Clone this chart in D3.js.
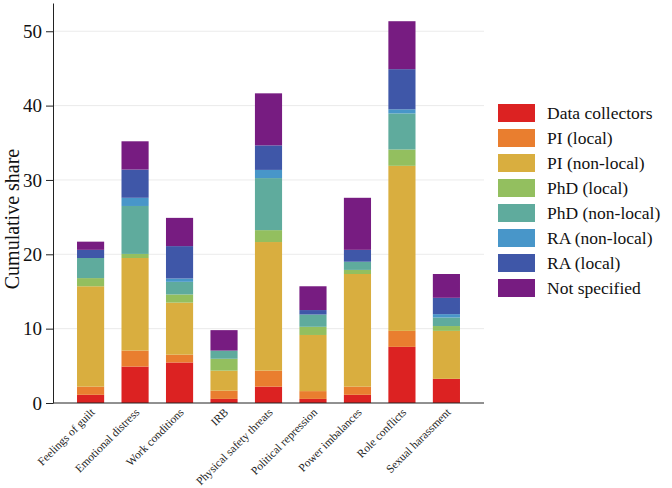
<!DOCTYPE html>
<html>
<head>
<meta charset="utf-8">
<script src="https://cdn.jsdelivr.net/npm/d3@7"></script>
<style>
body{margin:0;background:#fff;}
svg text{font-family:"Liberation Serif","Times New Roman","DejaVu Serif",serif !important;}
</style>
</head>
<body>
<script>
//data
const categories=["Feelings of guilt","Emotional distress","Work conditions","IRB","Physical safety threats","Political repression","Power imbalances","Role conflicts","Sexual harassment"];
const groups=["Data collectors","PI (local)","PI (non-local)","PhD (local)","PhD (non-local)","RA (non-local)","RA (local)","Not specified"];
const colors=["#dc2222","#e97e2f","#d9ae3f","#93bf5f","#5fab9d","#4896c9","#3f57a8","#771c81"];
const dataCollectors=[1.1,4.9,5.45,0.55,2.2,0.55,1.1,7.55,3.25];
const piLocal=[1.1,2.15,1.05,1.1,2.15,1.05,1.1,2.15,0];
const piNonLocal=[13.5,12.45,7.0,2.7,17.3,7.55,15.15,22.2,6.45];
const phdLocal=[1.1,0.55,1.1,1.6,1.6,1.1,0.55,2.2,0.65];
const phdNonLocal=[2.7,6.45,1.7,1.1,7.0,1.65,1.1,4.85,1.15];
const raNonLocal=[0,1.1,0.45,0,1.1,0,0,0.55,0.45];
const raLocal=[1.1,3.8,4.35,0,3.3,0.6,1.6,5.4,2.2];
const notSpecified=[1.1,3.8,3.8,2.75,7.0,3.2,7.0,6.45,3.2];
const yTicks=[0,10,20,30,40,50];

const series=[dataCollectors,piLocal,piNonLocal,phdLocal,phdNonLocal,raNonLocal,raLocal,notSpecified];
const rows=categories.map((c,i)=>{
  const r={cat:c};
  groups.forEach((g,j)=>r[g]=series[j][i]);
  return r;
});

//constants
const w=672,h=488;
const mLeft=53,mRight=484,mTop=3,mBottom=403;
const serif="'Liberation Serif','Times New Roman',serif";

const svg=d3.select("body").append("svg").attr("width",w).attr("height",h)
  .attr("font-family",serif);

const x=d3.scaleBand().domain(categories).range([mLeft,mRight]).paddingInner(0.39).paddingOuter(0.54);
const y=d3.scaleLinear().domain([0,53.8]).range([mBottom,mTop]);
const color=d3.scaleOrdinal().domain(groups).range(colors);

//grid
svg.append("g").selectAll("line").data(yTicks.filter(d=>d>0)).enter().append("line")
  .attr("x1",mLeft).attr("x2",mRight)
  .attr("y1",d=>y(d)).attr("y2",d=>y(d))
  .attr("stroke","#ebebeb").attr("stroke-width",1);

//bars
const stacked=d3.stack().keys(groups)(rows);
svg.append("g").selectAll("g").data(stacked).enter().append("g")
  .attr("fill",d=>color(d.key))
  .selectAll("rect").data(d=>d).enter().append("rect")
  .attr("x",d=>x(d.data.cat))
  .attr("y",d=>y(d[1]))
  .attr("width",x.bandwidth())
  .attr("height",d=>y(d[0])-y(d[1]));

//y axis
const yAxis=d3.axisLeft(y).tickValues(yTicks).tickSize(7).tickPadding(4).tickSizeOuter(0);
const gy=svg.append("g").attr("transform","translate("+mLeft+",0)").call(yAxis)
  .attr("font-family",serif);
gy.selectAll("text").style("font-family",serif).style("font-size","19px").attr("fill","#111");
gy.selectAll("line,path").attr("stroke","#222");

//x axis
const xAxis=d3.axisBottom(x).tickSize(0).tickPadding(0).tickSizeOuter(0);
const gx=svg.append("g").attr("transform","translate(0,"+mBottom+")").call(xAxis)
  .attr("font-family",serif);
gx.select("path").attr("stroke","#222").attr("d","M"+mLeft+",0H"+mRight);
gx.selectAll("text")
  .style("font-family",serif)
  .style("font-size","11.5px").attr("fill","#222")
  .attr("text-anchor","end")
  .attr("dy","0")
  .attr("transform","translate(5,10) rotate(-45)");

//y label
svg.append("text")
  .attr("transform","translate(19,219) rotate(-90)")
  .attr("text-anchor","middle")
  .style("font-family",serif)
  .style("font-size","20px").attr("fill","#111")
  .text("Cumulative share");

//legend
const legend=svg.append("g").attr("transform","translate(498,104)");
const item=legend.selectAll("g").data(groups).enter().append("g")
  .attr("transform",(d,i)=>"translate(0,"+(i*25)+")");
item.append("rect").attr("width",37).attr("height",18).attr("fill",d=>color(d));
item.append("text").attr("x",49).attr("y",15)
  .style("font-family",serif)
  .style("font-size","17.5px").attr("fill","#111")
  .text(d=>d);
</script>
</body>
</html>
